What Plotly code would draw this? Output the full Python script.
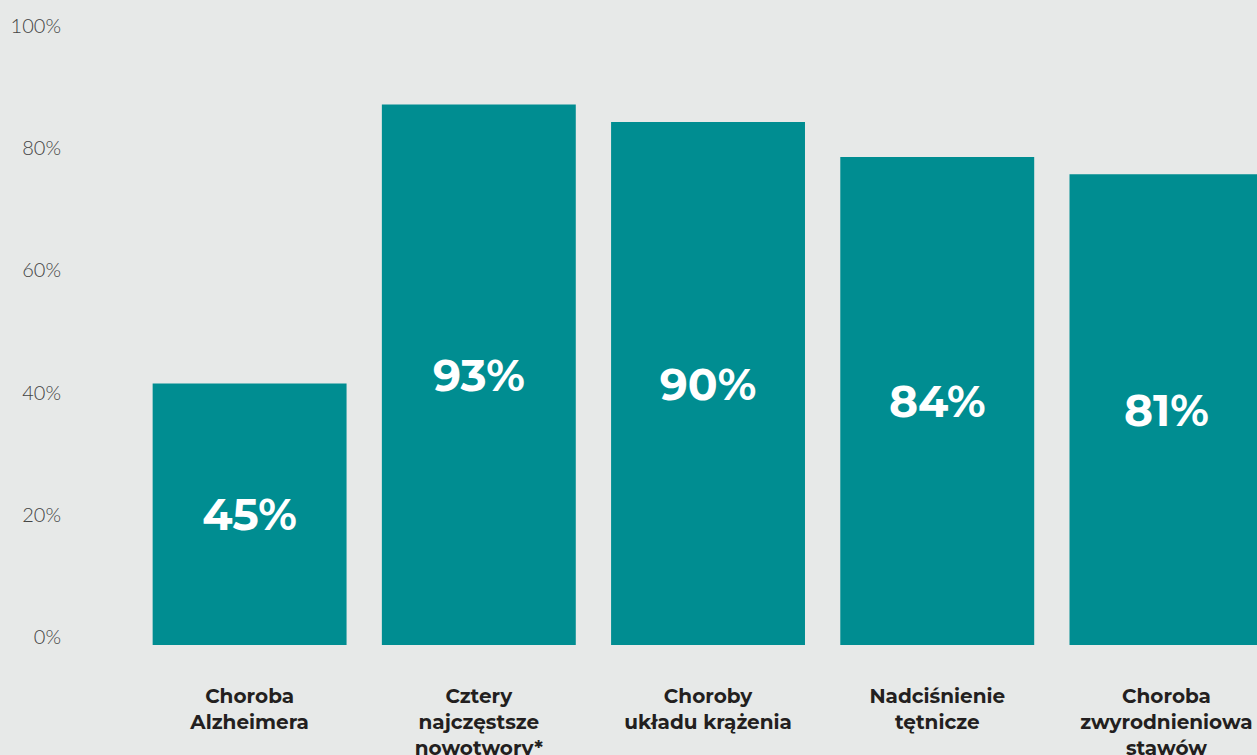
import plotly.graph_objects as go

categories = ["Choroba<br>Alzheimera", "Cztery<br>najczęstsze<br>nowotwory*",
              "Choroby<br>układu krążenia", "Nadciśnienie<br>tętnicze",
              "Choroba<br>zwyrodnieniowa<br>stawów"]
values = [45, 93, 90, 84, 81]
value_labels = [f"{v}%" for v in values]
tick_values = [0, 20, 40, 60, 80, 100]
tick_labels = [f"{v}%" for v in tick_values]

BG = "#e7e9e8"
TEAL = "#008d91"
BOLD_FONT = "Montserrat, Inter, 'Open Sans', sans-serif"

fig = go.Figure()
fig.add_trace(go.Bar(
    x=list(range(len(categories))), y=values,
    width=0.846, marker=dict(color=TEAL, line=dict(width=0)),
    text=value_labels, textposition="inside", insidetextanchor="middle",
    textangle=0,
    textfont=dict(family=BOLD_FONT, size=44, color="white", weight=700),
    hoverinfo="skip", showlegend=False,
))
# invisible trace to carry the percentage axis
fig.add_trace(go.Scatter(x=[0], y=[0], yaxis="y2", mode="markers",
                         marker=dict(opacity=0), showlegend=False, hoverinfo="skip"))

fig.update_layout(
    width=1257, height=755,
    paper_bgcolor=BG, plot_bgcolor=BG,
    margin=dict(l=135, r=0, t=0, b=110, autoexpand=False),
    xaxis=dict(range=[-0.50, 4.395], tickmode="array", automargin=False,
               tickvals=list(range(len(categories))), ticktext=categories,
               showgrid=False, zeroline=False, showline=False, ticks="",
               ticklabelstandoff=37,
               tickfont=dict(family=BOLD_FONT, size=20, color="#231f20", weight=700)),
    yaxis=dict(range=[0, 111.0], visible=False, fixedrange=True, automargin=False),
    yaxis2=dict(range=[-1.31, 104.25], overlaying="y", side="left", automargin=False,
                tickmode="array", tickvals=tick_values, ticktext=tick_labels,
                showgrid=False, zeroline=False, showline=False, ticks="",
                ticklabelstandoff=73,
                tickfont=dict(family="Lato, 'Open Sans', sans-serif", size=20,
                              color="#444444", weight=300)),
    bargap=0.15,
)

fig.write_html("out.html")
